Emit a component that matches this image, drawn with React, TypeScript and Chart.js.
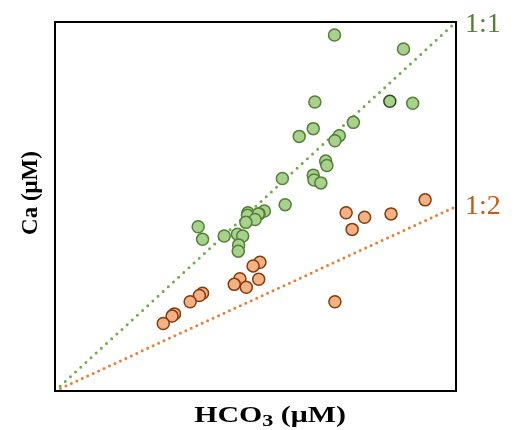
import React, { useEffect, useRef } from "react";
import { Chart, registerables } from "chart.js";

Chart.register(...registerables);

// HCO3 (x) and Ca (y), relative units (1:1 line runs corner to corner)
const greenX = [69.7, 86.9, 64.8, 83.5, 89.2, 74.4, 64.4, 60.9, 70.9, 69.8, 67.5, 67.8, 56.7, 64.4, 64.6, 66.3, 57.4, 52.2, 48.1, 50.9, 50.7, 48.0, 49.9, 47.6, 35.7, 36.8, 42.2, 45.5, 46.8, 45.8, 45.7];
const greenY = [96.5, 92.7, 78.3, 78.5, 78.0, 72.8, 71.1, 69.0, 69.2, 67.8, 62.3, 61.1, 57.6, 58.5, 57.2, 56.4, 50.5, 48.8, 48.3, 48.0, 48.0, 47.6, 46.5, 45.7, 44.5, 41.1, 42.0, 42.5, 42.0, 39.6, 37.9];
const orangeX = [92.3, 72.6, 77.2, 83.8, 74.1, 51.1, 49.4, 46.1, 44.7, 47.7, 50.8, 36.8, 36.0, 33.7, 69.8, 29.8, 29.2, 27.0];
const orangeY = [51.8, 48.3, 47.1, 48.0, 43.8, 34.9, 33.9, 30.4, 28.9, 28.1, 30.3, 26.5, 25.9, 24.2, 24.2, 20.9, 20.3, 18.3];
const lineX = [0, 100];
const ratio11 = [0, 100];
const ratio12 = [0, 50];
const label11 = "1:1";
const label12 = "1:2";
const xTitle = ["HCO", "3", " (μM)"];
const yTitle = "Ca (μM)";

export default function App() {
  const ref = useRef<HTMLCanvasElement>(null);
  useEffect(() => {
    const canvas = ref.current!;
    const deco = {
      id: "deco",
      afterDatasetsDraw(chart: any) {
        const { ctx, chartArea } = chart;
        const { left, right, top, bottom } = chartArea;
        ctx.save();
        ctx.strokeStyle = "#000";
        ctx.lineWidth = 2;
        ctx.strokeRect(left, top, right - left, bottom - top);
        // ratio labels
        const ys = chart.scales.y;
        ctx.font = "28px 'Liberation Serif', serif";
        ctx.textBaseline = "alphabetic";
        ctx.textAlign = "left";
        ctx.fillStyle = "#548235";
        ctx.fillText(label11, right + 9, ys.getPixelForValue(ratio11[1]) + 10);
        ctx.fillStyle = "#c55a11";
        ctx.fillText(label12, right + 9, ys.getPixelForValue(ratio12[1]) + 7);
        // x title with subscript (horizontally stretched like the reference)
        ctx.fillStyle = "#000";
        const big = "bold 23px 'Liberation Serif', serif";
        const small = "bold 17px 'Liberation Serif', serif";
        ctx.font = big;
        const w1 = ctx.measureText(xTitle[0]).width;
        const w3 = ctx.measureText(xTitle[2]).width;
        ctx.font = small;
        const w2 = ctx.measureText(xTitle[1]).width;
        const total = w1 + w2 + w3;
        const sx = 1.3;
        ctx.save();
        ctx.translate(270, 422);
        ctx.scale(sx, 1);
        const x0 = -total / 2;
        ctx.font = big;
        ctx.fillText(xTitle[0], x0, 0);
        ctx.font = small;
        ctx.fillText(xTitle[1], x0 + w1, 4);
        ctx.font = big;
        ctx.fillText(xTitle[2], x0 + w1 + w2, 0);
        ctx.restore();
        // y title
        ctx.translate(37, 193);
        ctx.rotate(-Math.PI / 2);
        ctx.textAlign = "center";
        ctx.font = big;
        ctx.fillText(yTitle, 0, 0);
        ctx.restore();
      },
    };
    const chart = new Chart(canvas, {
      type: "scatter",
      data: {
        datasets: [
          {
            type: "line",
            data: lineX.map((x, i) => ({ x, y: ratio11[i] })),
            borderColor: "#70ad47",
            borderWidth: 3,
            borderDash: [0, 7],
            borderCapStyle: "round",
            pointRadius: 0,
            order: 3,
          } as any,
          {
            type: "line",
            data: lineX.map((x, i) => ({ x, y: ratio12[i] })),
            borderColor: "#ed7d31",
            borderWidth: 3,
            borderDash: [0, 6],
            borderCapStyle: "round",
            pointRadius: 0,
            order: 3,
          } as any,
          {
            data: greenX.map((x, i) => ({ x, y: greenY[i] })),
            backgroundColor: "#a9d18e",
            borderColor: (c: any) => (c.dataIndex === 3 ? "#2f4a1e" : "#538135"),
            borderWidth: 1.5,
            pointRadius: 6,
            order: 1,
          } as any,
          {
            data: orangeX.map((x, i) => ({ x, y: orangeY[i] })),
            backgroundColor: "#f4b183",
            borderColor: "#843c0c",
            borderWidth: 1.5,
            pointRadius: 6,
            order: 2,
          },
        ],
      },
      options: {
        animation: false,
        responsive: false,
        layout: { padding: { left: 55, right: 61, top: 22, bottom: 39 } },
        plugins: { legend: { display: false }, tooltip: { enabled: false } },
        scales: {
          x: { type: "linear", min: 0, max: 100, display: false },
          y: { type: "linear", min: 0, max: 100, display: false },
        },
      },
      plugins: [deco],
    });
    return () => chart.destroy();
  }, []);
  return (
    <div style={{ position: "fixed", left: 0, top: 0, width: 517, height: 430, background: "#fff" }}>
      <canvas ref={ref} width={517} height={430} />
    </div>
  );
}
